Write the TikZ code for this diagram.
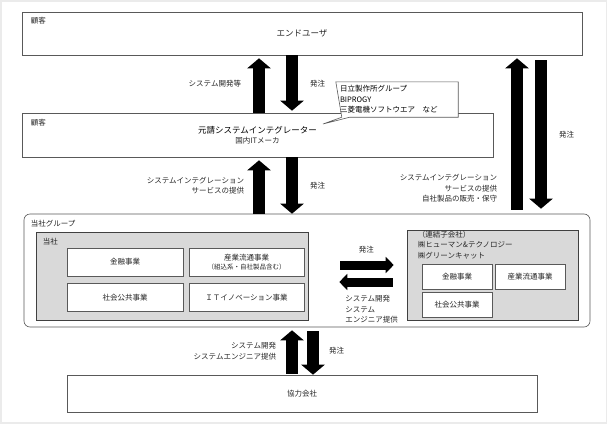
\documentclass[tikz,border=0pt]{standalone}
\usepackage{fontspec}
\setmainfont{Noto Sans CJK JP}
\usepackage{tikz}
\usetikzlibrary{arrows.meta,positioning}
\newcommand{\lbl}{\fontsize{7.5}{10.5}\selectfont}
\newcommand{\lblbig}{\fontsize{8.5}{11}\selectfont}
\newcommand{\lblsmall}{\fontsize{6.5}{9}\selectfont}

\begin{document}
\begin{tikzpicture}[x=1pt,y=-1pt,font=\lbl,text=black!85]
  \tikzstyle{box}=[draw=black!65,fill=white,inner sep=0pt,align=center,semithick]
  \tikzstyle{grey box}=[box,draw=black!75,fill=black!15]
  \tikzstyle{unit}=[box,minimum width=116,minimum height=28]
  \tikzstyle{subunit}=[box,minimum width=70,minimum height=25]
  \tikzstyle{bigup}=[line width=12pt,-{Triangle[width=23pt,length=10pt]}]
  \tikzstyle{flat}=[line width=9pt,-{Triangle[width=16pt,length=8pt]}]
  \tikzstyle{tag}=[inner sep=0pt,align=right]

  \useasboundingbox (0,0) rectangle (607,423);
  \draw[black!8,line width=3pt] (0,0) rectangle (607,423);

  % customers
  \node[box,minimum width=560,minimum height=43]	(eu)	at (302,33.5)	{\lblbig エンドユーザ};
  \node[tag,below right=5pt and 9pt of eu.north west]	(eutag)	{顧客};
  \node[box,minimum width=471,minimum height=44]	(si)	at (257.5,135)	{\lblbig\color{black}元請システムインテグレーター\\国内ITメーカ};
  \node[tag,below right=6pt and 9pt of si.north west]	(sitag)	{顧客};

  % callout
  \coordinate (ptr) at (323,124);
  \node[minimum width=122,minimum height=35]	(grp)	at (397,99.5)	{};
  \draw[box] (grp.north west) -- (grp.north east) -- (grp.south east) -- ([xshift=14pt]grp.south west)
        -- (ptr) -- ([xshift=6pt]grp.south west) -- cycle;
  \node[tag,align=left,text=black,anchor=west]	(grptext)	at ([xshift=4pt]grp.west)
        {日立製作所グループ\\BIPROGY\\三菱電機ソフトウエア　など};

  % our group
  \node[box,rounded corners=6pt,minimum width=566,minimum height=113]	(group)	at (307,270.5)	{};
  \node[tag,below right=6pt and 7pt of group.north west]	(grouptag)	{当社グループ};
  \node[grey box,minimum width=272,minimum height=88]	(tosha)	at (172,276)	{};
  \node[tag,below right=6pt and 7pt of tosha.north west]	(toshatag)	{当社};
  \node[unit]	(fin)	at (125,262)	{金融事業};
  \node[unit,minimum width=115]	(ind)	at (246.5,262)	{産業流通事業\\[-2pt]{\lblsmall （組込系・自社製品含む）}};
  \node[unit]	(pub)	at (125,297.5)	{社会公共事業};
  \node[unit,minimum width=115]	(itx)	at (246.5,297.5)	{ＩＴイノベーション事業};

  \node[grey box,minimum width=171,minimum height=90]	(sub)	at (492.5,275)	{};
  \node[tag,align=left,below right=1pt and 11pt of sub.north west]	(subtag)
        {（連結子会社）\\㈱ヒューマン\&テクノロジー\\㈱グリーンキャット};
  \node[subunit]	(sfin)	at (457,277)	{金融事業};
  \node[subunit]	(sind)	at (530,277)	{産業流通事業};
  \node[subunit]	(spub)	at (457,305)	{社会公共事業};

  % partners
  \node[box,minimum width=470,minimum height=37]	(partner)	at (302,393.5)	{協力会社};

  % arrow columns and rows
  \coordinate (colA) at (259,0);
  \coordinate (colB) at (292,0);
  \coordinate (colC) at (517,0);
  \coordinate (colD) at (541,0);
  \coordinate (colE) at (313,0);
  \coordinate (rowA) at (0,265);
  \coordinate (rowB) at (0,282);

  \draw[bigup,shorten >=3pt]	(si.north -| colA) -- node[tag,left=12pt] {システム開発等} (eu.south -| colA);
  \draw[bigup,shorten >=2pt]	(eu.south -| colB) -- node[tag,right=12pt] {発注} (si.north -| colB);

  \draw[bigup,shorten >=3pt]	(group.north -| colA) -- node[tag,left=9pt] {システムインテグレーション\\サービスの提供} (si.south -| colA);
  \draw[bigup]	(si.south -| colB) -- node[tag,right=12pt] {発注} (group.north -| colB);

  \draw[bigup,shorten <=4pt,shorten >=3pt]	(group.north -| colC) -- node[tag,pos=.16,left=14pt] {システムインテグレーション\\サービスの提供\\自社製品の販売・保守} (eu.south -| colC);
  \draw[bigup,shorten <=5pt,shorten >=5pt]	(eu.south -| colD) -- node[tag,right=12pt] {発注} (group.north -| colD);

  \draw[bigup,shorten <=1pt,shorten >=3pt]	(partner.north -| colB) -- node[tag,left=10pt] {システム開発\\システムエンジニア提供} (group.south -| colB);
  \draw[bigup,shorten <=4pt]	(group.south -| colE) -- node[tag,right=10pt] {発注} (partner.north -| colE);

  \draw[flat,shorten <=32pt,shorten >=13pt]	(tosha.east |- rowA) -- node[tag,pos=.59,above=7pt] {発注} (sub.west |- rowA);
  \draw[flat,shorten <=14pt,shorten >=31pt]	(sub.west |- rowB) -- node[tag,align=left,pos=.68,below right=9pt and 1pt] {システム開発\\システム\\エンジニア提供} (tosha.east |- rowB);
\end{tikzpicture}
\end{document}
